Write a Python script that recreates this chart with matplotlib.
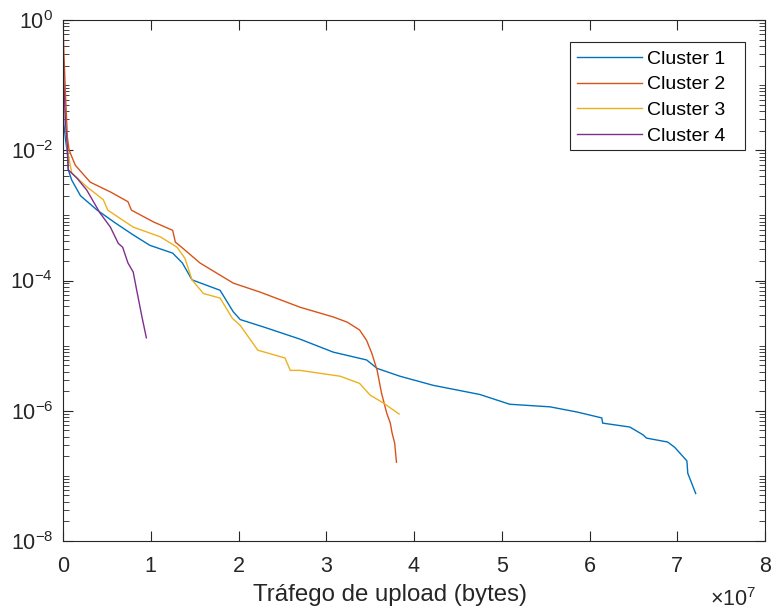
import numpy as np
import matplotlib.pyplot as plt
from matplotlib.patches import Rectangle
from matplotlib.ticker import LogLocator, FixedLocator, NullFormatter

plt.rcParams['font.family'] = ['Liberation Sans', 'DejaVu Sans']
plt.rcParams['mathtext.default'] = 'regular'
plt.rcParams['axes.unicode_minus'] = False

# upload traffic (x 1e7 bytes) and log10 of the CCDF
c1_x = [0, 0.003, 0.01, 0.03, 0.05, 0.06, 0.1, 0.2, 0.39, 0.6, 0.8, 0.99, 1.25, 1.36, 1.47,
        1.79, 1.94, 2.02, 2.3, 2.7, 3.08, 3.46, 3.58, 3.84, 4.22, 4.75, 5.09, 5.55, 5.86, 6.14,
        6.15, 6.46, 6.61, 6.65, 6.89, 6.97, 7.11, 7.12, 7.21]
c1_y = [-1.0, -1.3, -1.6, -1.85, -2.04, -2.3, -2.46, -2.7, -2.92, -3.12, -3.3, -3.46, -3.58,
        -3.73, -3.99, -4.15, -4.48, -4.6, -4.72, -4.9, -5.1, -5.22, -5.35, -5.47, -5.61, -5.75,
        -5.9, -5.94, -6.02, -6.11, -6.19, -6.25, -6.37, -6.42, -6.48, -6.56, -6.77, -6.96, -7.27]

c2_x = [0, 0.01, 0.03, 0.05, 0.07, 0.14, 0.31, 0.54, 0.74, 0.78, 1.03, 1.25, 1.28, 1.37, 1.56,
        1.94, 2.25, 2.7, 3.08, 3.24, 3.38, 3.46, 3.52, 3.58, 3.63, 3.69, 3.73, 3.75, 3.78, 3.8]
c2_y = [0.0, -0.5, -1.2, -1.8, -2.0, -2.23, -2.49, -2.64, -2.79, -2.92, -3.1, -3.23, -3.41,
        -3.51, -3.73, -4.04, -4.18, -4.41, -4.56, -4.64, -4.76, -4.92, -5.12, -5.38, -5.73,
        -6.04, -6.19, -6.34, -6.5, -6.79]

c3_x = [0, 0.005, 0.02, 0.04, 0.05, 0.1, 0.27, 0.46, 0.51, 0.8, 1.11, 1.3, 1.39, 1.47, 1.6,
        1.79, 1.93, 2.02, 2.22, 2.53, 2.59, 2.7, 3.16, 3.38, 3.5, 3.65, 3.83]
c3_y = [-0.6, -0.9, -1.4, -1.8, -2.0, -2.35, -2.56, -2.76, -2.92, -3.18, -3.33, -3.49, -3.66,
        -3.99, -4.2, -4.27, -4.58, -4.69, -5.07, -5.19, -5.38, -5.38, -5.47, -5.58, -5.76,
        -5.88, -6.05]

c4_x = [0, 0.002, 0.01, 0.03, 0.05, 0.06, 0.16, 0.27, 0.42, 0.54, 0.63, 0.68, 0.74, 0.8,
        0.84, 0.9, 0.95]
c4_y = [0.0, -0.46, -1.0, -1.6, -1.95, -2.3, -2.43, -2.61, -2.96, -3.18, -3.43, -3.49, -3.73,
        -3.87, -4.15, -4.56, -4.88]

series = [(c1_x, c1_y, 'Cluster 1', '#0072BD'),
          (c2_x, c2_y, 'Cluster 2', '#D95319'),
          (c3_x, c3_y, 'Cluster 3', '#EDB120'),
          (c4_x, c4_y, 'Cluster 4', '#7E2F8E')]

W, H = 773, 614
fig = plt.figure(figsize=(W / 100, H / 100), dpi=100)
ax = fig.add_axes([63 / W, 73 / H, 702 / W, 521 / H])

for xs, ys, label, color in series:
    ax.plot(xs, 10.0 ** np.array(ys), color=color, lw=1.0, label=label)

ax.set_yscale('log')
ax.set_xlim(0, 8)
ax.set_ylim(1e-8, 1)
ax.set_xticks(np.arange(0, 9, 1))
ax.yaxis.set_major_locator(FixedLocator([1e-8, 1e-6, 1e-4, 1e-2, 1e0]))
ax.yaxis.set_minor_locator(LogLocator(base=10, subs=np.arange(1, 10), numticks=100))
ax.yaxis.set_minor_formatter(NullFormatter())

dark = '#262626'
for s in ax.spines.values():
    s.set_color(dark)
    s.set_linewidth(0.8)
ax.tick_params(which='both', direction='in', top=True, right=True, colors=dark,
               labelsize=15.5)
ax.tick_params(which='major', length=7, width=0.8)
ax.tick_params(which='minor', length=4, width=0.6)
ax.tick_params(axis='x', pad=11)
ax.tick_params(axis='y', pad=7)

ax.set_xlabel('Tráfego de upload (bytes)', fontsize=17.3, color=dark)
ax.xaxis.set_label_coords(0.466, -0.083)
fig.text(733 / W, 14 / H, r'$\times10^{7}$', fontsize=15.5, color=dark,
         ha='center', va='center')

# legend: MATLAB-style box with wide right margin
box = Rectangle((570 / W, 1 - 150 / H), 175 / W, 108 / H, transform=fig.transFigure,
                facecolor='white', edgecolor=dark, linewidth=0.8, zorder=4)
ax.add_patch(box)
leg = ax.legend(loc='upper left', bbox_to_anchor=(577 / W, 1 - 50 / H),
                bbox_transform=fig.transFigure, borderaxespad=0, borderpad=0,
                fontsize=14, handlelength=3.35, labelspacing=0.42, frameon=False,
                handletextpad=0.26)
leg.set_zorder(5)

fig.savefig('out.png', dpi=100)
